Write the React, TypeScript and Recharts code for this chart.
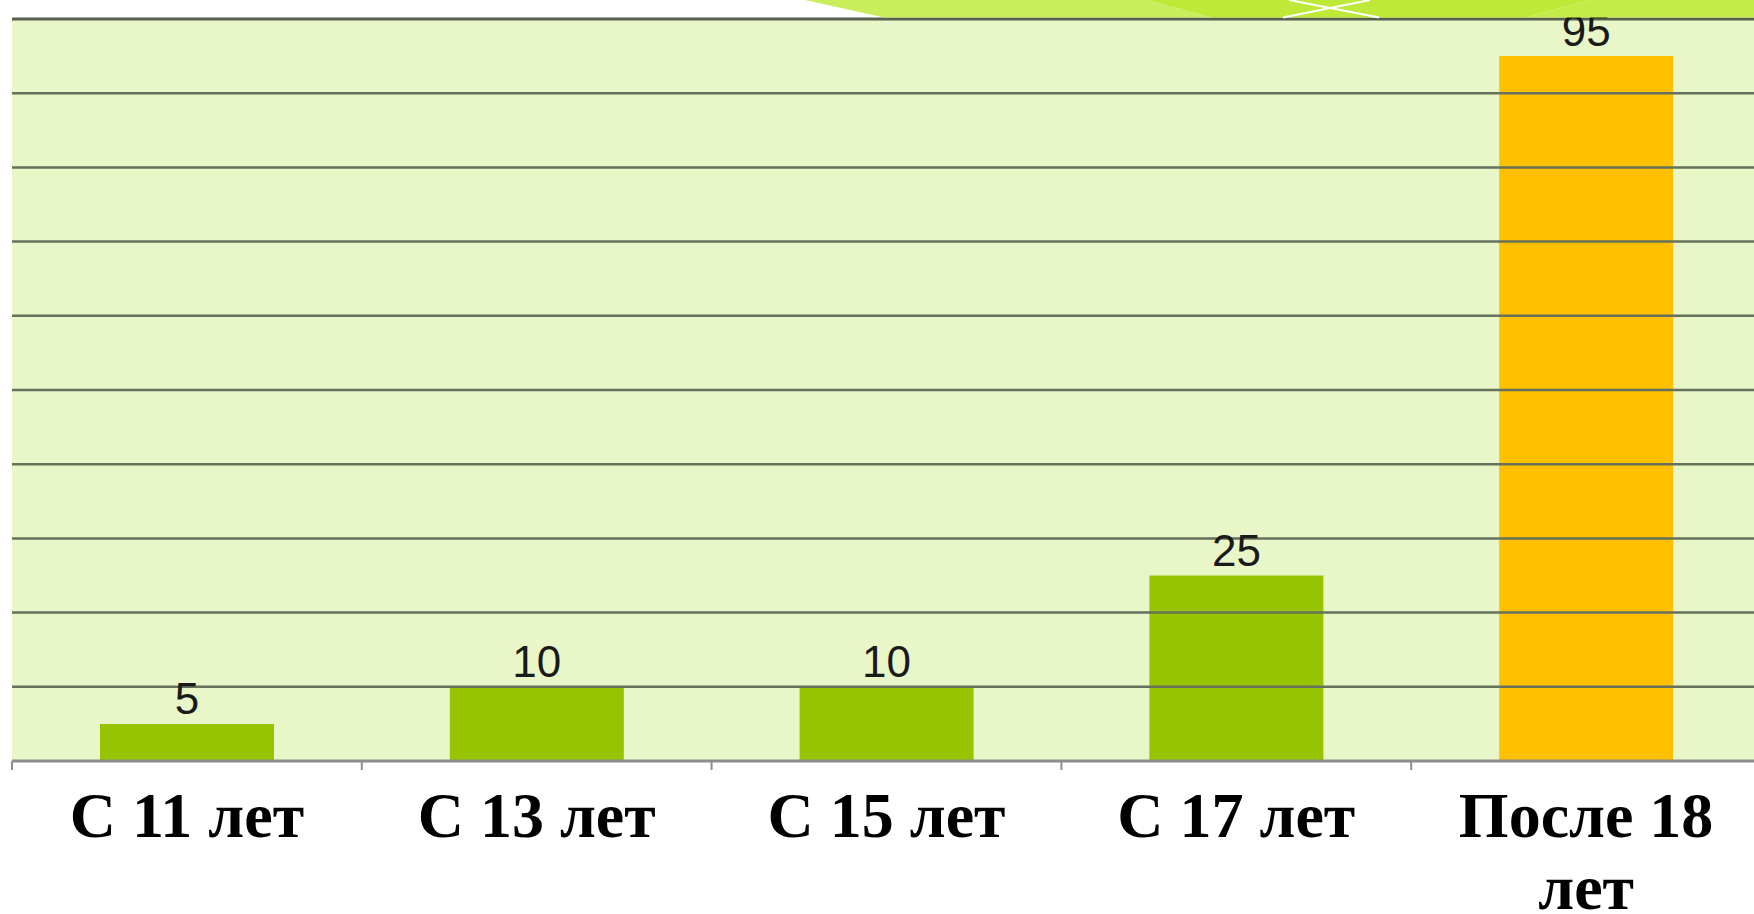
import React from "react";
import { BarChart, Bar, XAxis, YAxis, CartesianGrid, Cell, LabelList, ReferenceLine } from "recharts";

const categories = ["С 11 лет", "С 13 лет", "С 15 лет", "С 17 лет", "После 18 лет"];
const values = [5, 10, 10, 25, 95];
const yTicks = [0, 10, 20, 30, 40, 50, 60, 70, 80, 90, 100];

const data = categories.map((name, i) => ({ name, value: values[i] }));

const BAR_COLORS = ["#97C400", "#97C400", "#97C400", "#97C400", "#FFC000"];

const W = 1761;
const H = 914;
const M_LEFT = 12;
const M_TOP = 19;
const X_AXIS_H = 153;
const BAND = (W - M_LEFT) / categories.length;
const TICK_FONT = "bold 64px 'Liberation Serif', 'Times New Roman', serif";
const WRAP_W = 310;

let ctx: CanvasRenderingContext2D | null = null;
function wrap(label: string): string[] {
  if (typeof document !== "undefined" && !ctx) {
    ctx = document.createElement("canvas").getContext("2d");
  }
  const words = label.split(" ");
  if (!ctx) return [label];
  ctx.font = TICK_FONT;
  const lines: string[] = [];
  let cur = "";
  for (const w of words) {
    const test = cur ? cur + " " + w : w;
    if (cur && ctx.measureText(test).width > WRAP_W) {
      lines.push(cur);
      cur = w;
    } else {
      cur = test;
    }
  }
  if (cur) lines.push(cur);
  return lines;
}

function AxisTick(props: any) {
  const { x, y, payload } = props;
  const lines = wrap(String(payload.value));
  return (
    <g>
      <line x1={x - BAND / 2} x2={x - BAND / 2} y1={y} y2={y + 9} stroke="#8d8d8d" strokeWidth={2} />
      <text
        x={x}
        y={y + 76}
        textAnchor="middle"
        fontFamily="'Liberation Serif', 'Times New Roman', serif"
        fontWeight="bold"
        fontSize={64}
        fill="#000"
      >
        {lines.map((l, i) => (
          <tspan key={i} x={x} dy={i === 0 ? 0 : 72}>
            {l}
          </tspan>
        ))}
      </text>
    </g>
  );
}

export default function App() {
  return (
    <div style={{ position: "absolute", left: 0, top: 0, width: 1754, height: 914, overflow: "hidden", background: "#fff" }}>
      <BarChart
        width={W}
        height={H}
        data={data}
        margin={{ top: M_TOP, right: 0, bottom: 0, left: M_LEFT }}
        barCategoryGap="25%"
      >
        <CartesianGrid vertical={false} horizontal={false} fill="#E8F6C8" fillOpacity={1} />
        <YAxis
          type="number"
          domain={[0, 100]}
          ticks={yTicks}
          width={0}
          tick={false}
          tickLine={false}
          axisLine={{ stroke: "#a0a0a0", strokeWidth: 1.5 }}
        />
        <XAxis
          dataKey="name"
          height={X_AXIS_H}
          tickLine={false}
          tickSize={0}
          tickMargin={0}
          interval={0}
          axisLine={{ stroke: "#8d8d8d", strokeWidth: 3 }}
          tick={<AxisTick />}
        />
        {yTicks.slice(1).map((v) => (
          <ReferenceLine
            key={v}
            y={v}
            stroke={v === 100 ? "#56604C" : "#65715A"}
            strokeWidth={v === 100 ? 3 : 2.5}
            ifOverflow="visible"
          />
        ))}
        <Bar dataKey="value" barSize={174} isAnimationActive={false}>
          {data.map((d, i) => (
            <Cell key={d.name} fill={BAR_COLORS[i]} />
          ))}
          <LabelList
            dataKey="value"
            position="top"
            offset={10}
            fill="#1a1a1a"
            fontSize={44}
            fontFamily="'Liberation Sans', Arial, sans-serif"
          />
        </Bar>
      </BarChart>
      <svg width={1754} height={19} style={{ position: "absolute", left: 0, top: 0 }}>
        <polygon points="805,0 1146,0 1212,17.5 884,17.5" fill="#C8EE5C" />
        <polygon points="1146,0 1590,0 1526,17.5 1212,17.5" fill="#BEE937" />
        <polygon points="1590,0 1754,0 1754,17.5 1526,17.5" fill="#C4EC48" />
        <line x1={1289} y1={0} x2={1379} y2={17.5} stroke="#fff" strokeWidth={2} />
        <line x1={1370} y1={0} x2={1283} y2={17.5} stroke="#fff" strokeWidth={2} />
      </svg>
    </div>
  );
}
